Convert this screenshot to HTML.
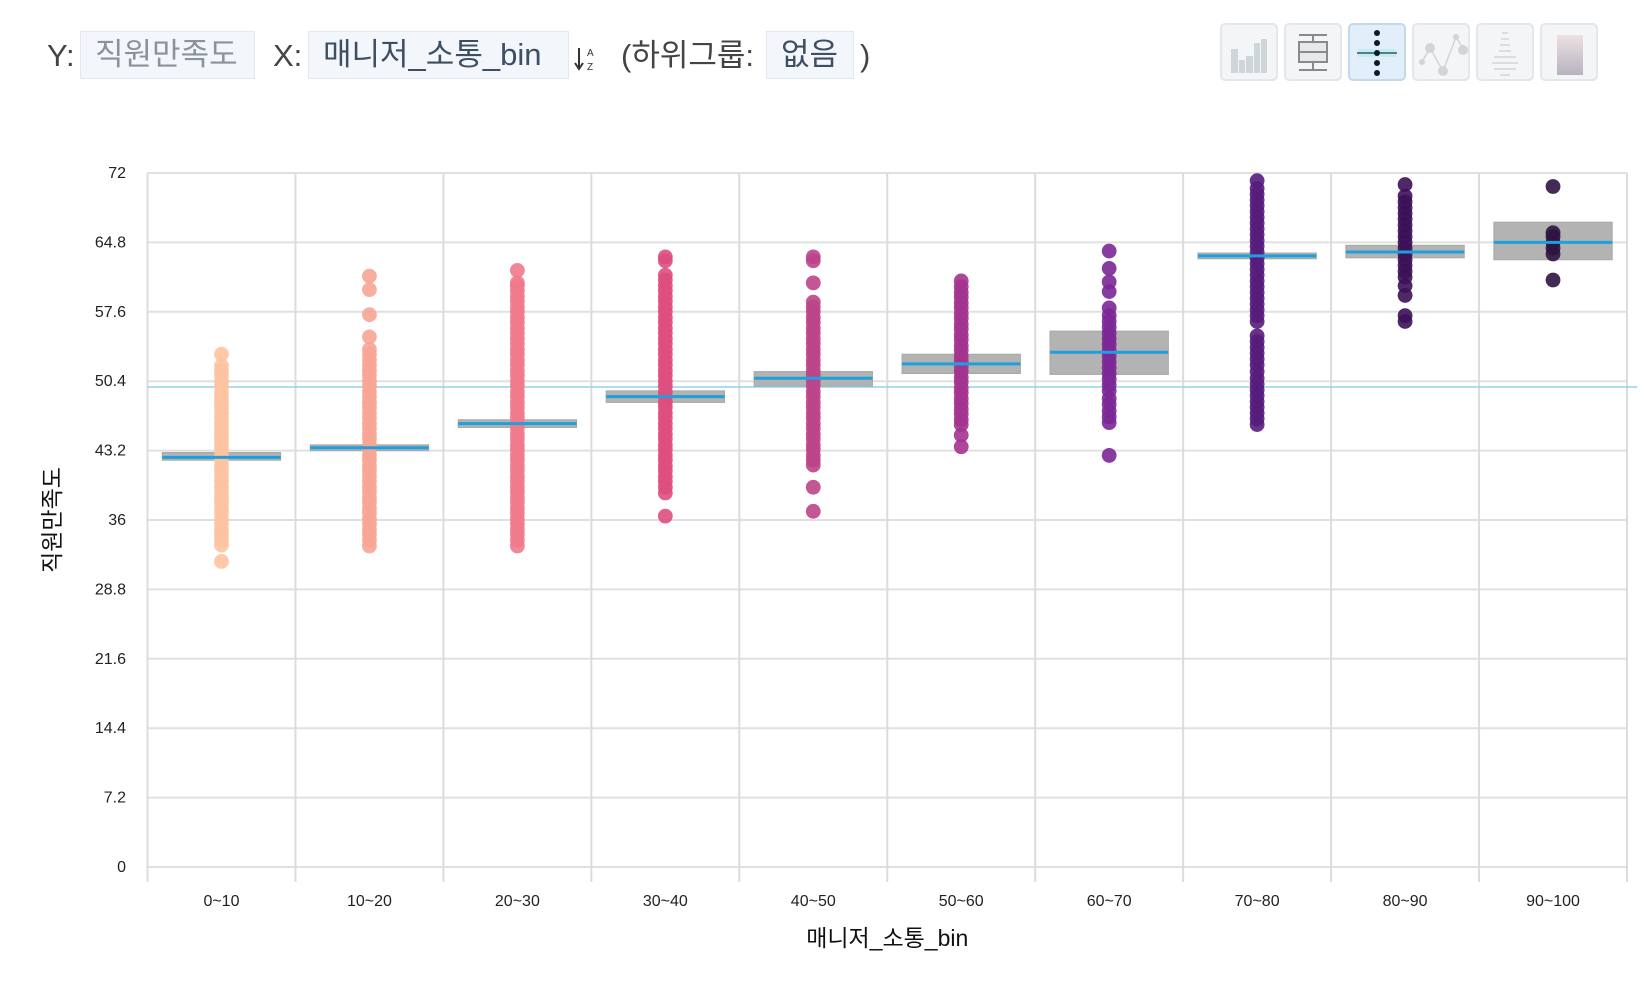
<!DOCTYPE html>
<html><head><meta charset="utf-8">
<style>
html,body{margin:0;padding:0;background:#fff;}
body{width:1644px;height:986px;overflow:hidden;position:relative;font-family:"Liberation Sans","Noto Sans CJK KR",sans-serif;}
.lbl{position:absolute;top:33px;height:46px;line-height:46px;font-size:31px;color:#444;}
.box{position:absolute;top:31px;height:48px;line-height:46px;font-size:31px;background:#f3f7fb;border:1px solid #e1e8ef;box-sizing:border-box;padding:0 14px;}
.btn{position:absolute;top:23px;width:58px;height:58px;border:2px solid #e3e6ea;border-radius:5px;background:#f3f5f7;box-sizing:border-box;}
</style></head><body>
<div class="lbl" style="left:47px">Y:</div>
<div class="box" style="left:80px;width:175px;color:#8a939b">직원만족도</div>
<div class="lbl" style="left:273px">X:</div>
<div class="box" style="left:308px;width:261px;color:#3d4f63">매니저_소통_bin</div>
<div style="position:absolute;left:574px;top:44px;width:26px;height:30px;">
<svg width="26" height="30"><line x1="5" y1="4" x2="5" y2="24" stroke="#333" stroke-width="2"/><path d="M1 19 L5 25 L9 19" fill="none" stroke="#333" stroke-width="2"/><text x="13" y="12" font-size="10" fill="#333" font-family="Liberation Sans">A</text><text x="13" y="26" font-size="10" fill="#333" font-family="Liberation Sans">Z</text></svg></div>
<div class="lbl" style="left:621px">(하위그룹:</div>
<div class="box" style="left:766px;width:88px;color:#3d4f63">없음</div>
<div class="lbl" style="left:860px">)</div>

<div class="btn" style="left:1220px"><svg width="54" height="54"><g fill="#cfd6da"><rect x="9" y="24" width="7" height="24"/><rect x="17" y="35" width="6" height="13"/><rect x="24" y="31" width="7" height="17"/><rect x="32" y="18" width="6" height="30"/><rect x="39" y="14" width="6" height="34"/></g></svg></div>
<div class="btn" style="left:1284px"><svg width="54" height="54"><g stroke="#8a8a8a" stroke-width="2" fill="#e6e8ea"><line x1="13" y1="10" x2="41" y2="10"/><line x1="27" y1="10" x2="27" y2="17"/><rect x="13" y="17" width="28" height="20"/><line x1="13" y1="27" x2="41" y2="27"/><line x1="27" y1="37" x2="27" y2="45"/><line x1="13" y1="45" x2="41" y2="45"/></g></svg></div>
<div class="btn" style="left:1348px;background:#e2eefa;border-color:#c4d8ec"><svg width="54" height="54"><rect x="8" y="24" width="38" height="8" fill="#c6ecf2"/><line x1="7" y1="28" x2="47" y2="28" stroke="#2a5d6a" stroke-width="1.5"/><g fill="#0c1a2a"><circle cx="27" cy="8" r="3"/><circle cx="27" cy="18" r="3"/><circle cx="27" cy="28" r="3"/><circle cx="27" cy="38" r="3"/><circle cx="27" cy="48" r="3"/></g></svg></div>
<div class="btn" style="left:1412px"><svg width="54" height="54"><polyline points="8,37 16,23 29,46 42,12 50,25" fill="none" stroke="#d0d5d9" stroke-width="1.5"/><g fill="#d0d5d9"><circle cx="8" cy="37" r="3"/><circle cx="16" cy="23" r="5"/><circle cx="29" cy="46" r="5"/><circle cx="42" cy="12" r="3"/><circle cx="49" cy="25" r="5"/></g></svg></div>
<div class="btn" style="left:1476px"><svg width="54" height="54"><g stroke="#d2d6da" stroke-width="1.5"><line x1="24" y1="8" x2="30" y2="8"/><line x1="23" y1="14" x2="31" y2="14"/><line x1="22" y1="20" x2="32" y2="20"/><line x1="21" y1="26" x2="33" y2="26"/><line x1="16" y1="32" x2="38" y2="32"/><line x1="14" y1="38" x2="40" y2="38"/><line x1="16" y1="44" x2="38" y2="44"/><line x1="22" y1="50" x2="32" y2="50"/></g></svg></div>
<div class="btn" style="left:1540px"><svg width="54" height="54"><defs><linearGradient id="hg" x1="0" y1="0" x2="0" y2="1"><stop offset="0" stop-color="#ece2e4"/><stop offset="1" stop-color="#b8b2c0"/></linearGradient></defs><rect x="15" y="10" width="26" height="40" fill="url(#hg)"/></svg></div>

<svg id="chart" width="1644" height="986" style="position:absolute;left:0;top:0;pointer-events:none"></svg>

<script>
const categories = ["0~10","10~20","20~30","30~40","40~50","50~60","60~70","70~80","80~90","90~100"];
const medians = [42.5,43.5,46.0,48.8,50.7,52.2,53.4,63.4,63.8,64.8];
const q1s = [42.2,43.2,45.6,48.2,49.9,51.2,51.1,63.1,63.2,63.0];
const q3s = [43.0,43.8,46.4,49.4,51.4,53.2,55.6,63.7,64.5,66.9];
const overallMean = 49.8;
const yTicks = [0,7.2,14.4,21.6,28.8,36,43.2,50.4,57.6,64.8,72];
const colors = ["#fdc3a0","#f7a595","#f07a8b","#de4e7e","#bd4489","#a3338f","#7c2796","#561c7c","#3c1158","#2e1441"];
const points0 = [31.7,33.4,33.9,34.5,35.0,35.6,36.1,36.7,37.2,37.8,38.3,38.9,39.4,40.0,40.5,41.1,41.6,42.2,42.7,43.3,43.8,44.4,44.9,45.5,46.0,46.6,47.1,47.7,48.2,48.8,49.3,49.9,50.4,51.0,51.5,52.0,53.2];
const points1 = [33.3,33.9,34.5,35.0,35.6,36.1,36.7,37.2,37.8,38.3,38.9,39.4,40.0,40.5,41.1,41.6,42.2,42.7,43.3,43.8,44.4,44.9,45.5,46.0,46.6,47.1,47.7,48.2,48.8,49.3,49.9,50.4,51.0,51.5,52.1,52.6,53.2,53.7,55.0,57.3,59.9,61.3];
const points2 = [33.3,33.9,34.5,35.0,35.6,36.1,36.7,37.2,37.8,38.3,38.9,39.4,40.0,40.5,41.1,41.6,42.2,42.7,43.3,43.8,44.4,44.9,45.5,46.0,46.6,47.1,47.7,48.2,48.8,49.3,49.9,50.4,51.0,51.5,52.1,52.6,53.2,53.7,54.3,54.8,55.4,55.9,56.5,57.0,57.6,58.1,58.7,59.2,59.8,60.3,60.6,61.9];
const points3 = [36.4,38.8,39.4,40.0,40.5,41.1,41.6,42.2,42.7,43.3,43.8,44.4,44.9,45.5,46.0,46.6,47.1,47.7,48.2,48.8,49.3,49.9,50.4,51.0,51.5,52.1,52.6,53.2,53.7,54.3,54.8,55.4,55.9,56.5,57.0,57.6,58.1,58.7,59.2,59.8,60.3,60.9,61.4,62.9,63.3];
const points4 = [36.9,39.4,41.7,42.2,42.7,43.3,43.8,44.4,44.9,45.5,46.0,46.6,47.1,47.7,48.2,48.8,49.3,49.9,50.4,51.0,51.5,52.1,52.6,53.2,53.7,54.3,54.8,55.4,55.9,56.5,57.0,57.6,58.1,58.6,60.6,62.9,63.3];
const points5 = [43.6,44.8,45.9,46.4,47.0,47.5,48.1,48.6,49.2,49.7,50.3,50.8,51.4,51.9,52.5,53.0,53.6,54.1,54.7,55.2,55.8,56.3,56.9,57.4,58.0,58.5,59.1,59.6,60.2,60.8];
const points6 = [42.7,46.1,46.7,47.3,48.0,48.6,49.4,50.0,50.6,51.2,51.8,52.4,53.0,53.6,54.2,54.8,55.4,56.0,56.6,57.2,58.0,59.7,60.7,62.1,63.9];
const points7 = [45.9,46.5,47.1,47.7,48.3,48.9,49.5,50.1,50.7,51.4,52.1,52.7,53.3,53.9,54.5,55.1,56.6,57.2,57.8,58.4,59.0,59.6,60.2,60.8,61.4,62.0,62.6,63.2,63.8,64.4,65.0,65.6,66.2,66.8,67.4,68.0,68.6,69.2,69.8,70.4,71.2];
const points8 = [56.6,57.2,59.3,60.3,61.2,61.8,62.4,63.0,63.6,64.2,64.8,65.4,66.0,66.6,67.2,67.8,68.4,69.0,69.6,70.8];
const points9 = [60.9,63.6,64.2,64.8,65.4,65.8,70.6];
const allPoints = [points0,points1,points2,points3,points4,points5,points6,points7,points8,points9];

const NS = "http://www.w3.org/2000/svg";
const svg = document.getElementById('chart');
const L = 147.5, R = 1627, T = 173, B = 867, yMax = 72;
const band = (R - L) / categories.length;
function xScale(i){ return L + band * (i + 0.5); }
function yScale(v){ return B - (v / yMax) * (B - T); }
function mk(tag, attrs, parent){ const e = document.createElementNS(NS, tag); for (const k in attrs) e.setAttribute(k, attrs[k]); (parent||svg).appendChild(e); return e; }

const grid = mk('g', {});


yTicks.forEach(t => {
  const y = yScale(t);
  const ln = mk('line', {x1:L, x2:R, y1:y, y2:y, stroke:'#e0e0e0', 'stroke-width':2}, grid);
  
  
  const tx = mk('text', {x:126, y:y+5, 'text-anchor':'end', 'font-size':16, fill:'#222', 'font-family':'Liberation Sans, sans-serif'});
  tx.textContent = t;
  
  
});
for (let i = 0; i <= categories.length; i++) {
  const x = L + band * i;
  const ln = mk('line', {x1:x, x2:x, y1:T, y2:B+15, stroke:'#dcdcdc', 'stroke-width':2}, grid);
  
  
}
categories.forEach((c, i) => {
  const tx = mk('text', {x:xScale(i), y:906, 'text-anchor':'middle', 'font-size':16, fill:'#222', 'font-family':'Liberation Sans, sans-serif'});
  tx.textContent = c;
  
  
});

const meanLine = mk('line', {x1:L, x2:R+10, y1:yScale(overallMean), y2:yScale(overallMean), stroke:'#8fd3ea', 'stroke-width':1.5});



const boxW = band * 0.8;
categories.forEach((c, i) => {
  const g = mk('g', {});
  
  
  const rc = mk('rect', {x:xScale(i)-boxW/2, y:yScale(q3s[i]), width:boxW, height:Math.max(3, yScale(q1s[i])-yScale(q3s[i])), fill:'#b3b3b3', stroke:'#a8a8a8', 'stroke-width':1}, g);
  
  
  allPoints[i].forEach(v => {
    const p = mk('circle', {cx:xScale(i), cy:yScale(v), r:7.4, fill:colors[i], 'fill-opacity':0.9}, g);
    
    
  });
  const md = mk('line', {x1:xScale(i)-boxW/2, x2:xScale(i)+boxW/2, y1:yScale(medians[i]), y2:yScale(medians[i]), stroke:'#1ea0dc', 'stroke-width':3}, g);
  
  
});

const xt = mk('text', {x:(L+R)/2, y:946, 'text-anchor':'middle', 'font-size':23, fill:'#111', 'font-family':'Liberation Sans, Noto Sans CJK KR, sans-serif'});
xt.textContent = '매니저_소통_bin';


const yt = mk('text', {x:0, y:0, 'text-anchor':'middle', 'font-size':23, fill:'#111', 'font-family':'Liberation Sans, Noto Sans CJK KR, sans-serif', transform:'translate(60,520) rotate(-90)'});
yt.textContent = '직원만족도';


</script>
</body></html>
